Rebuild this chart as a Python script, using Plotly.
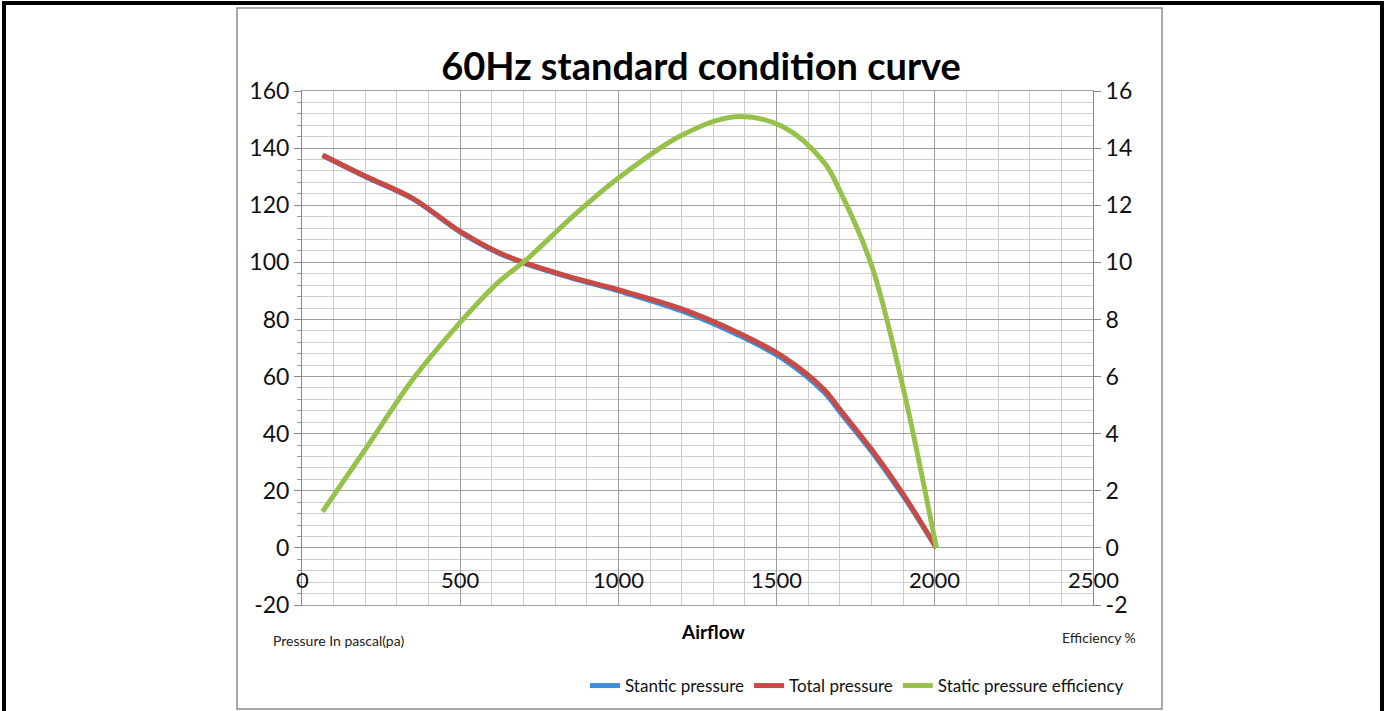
import plotly.graph_objects as go

# ---------------- data ----------------
airflow = [65, 200, 350, 500, 620, 710, 850, 1000, 1200, 1370, 1520, 1650, 1700, 1800, 1900, 2005]
static_pressure = [137.4, 130.0, 122.2, 110.6, 103.3, 99.4, 94.6, 90.0, 83.0, 75.0, 66.2, 54.5, 47.6, 33.8, 18.2, 0.0]
total_pressure = [137.6, 130.2, 122.4, 110.8, 103.5, 99.6, 94.8, 90.4, 83.7, 75.8, 67.0, 55.5, 48.5, 34.5, 18.8, 0.0]
static_efficiency = [1.27, 3.45, 5.9, 7.9, 9.3, 10.1, 11.55, 12.95, 14.45, 15.1, 14.75, 13.5, 12.5, 9.9, 5.6, 0.0]

x_tick_values = [0, 500, 1000, 1500, 2000, 2500]
x_tick_labels = ["0", "500", "1000", "1500", "2000", "2500"]
y_left_ticks = [-20, 0, 20, 40, 60, 80, 100, 120, 140, 160]
y_left_labels = ["-20", "0", "20", "40", "60", "80", "100", "120", "140", "160"]
y_right_ticks = [-2, 0, 2, 4, 6, 8, 10, 12, 14, 16]
y_right_labels = ["-2", "0", "2", "4", "6", "8", "10", "12", "14", "16"]

title_text = "60Hz standard condition curve"
series_names = ["Stantic pressure", "Total pressure", "Static pressure efficiency"]

# ---------------- layout helpers ----------------
W, H = 1386, 711
PL, PR, PT, PB = 302, 1093, 91, 605  # plot area in pixels


def px_x(p):
    return (p - PL) / (PR - PL)


def px_y(p):
    return (PB - p) / (PB - PT)


FONT = "Lato"
BLUE = "#3b8fd8"
RED = "#c94a44"
GREEN = "#96c14a"
MAJOR_GRID = "#9c9c9c"
MINOR_GRID = "#cdcdcd"
SM = 1.0

fig = go.Figure()
fig.add_trace(go.Scatter(x=airflow, y=static_pressure, name=series_names[0], mode="lines",
                         line=dict(color=BLUE, width=5, shape="spline", smoothing=SM), yaxis="y"))
fig.add_trace(go.Scatter(x=airflow, y=total_pressure, name=series_names[1], mode="lines",
                         line=dict(color=RED, width=5, shape="spline", smoothing=SM), yaxis="y"))
fig.add_trace(go.Scatter(x=airflow, y=static_efficiency, name=series_names[2], mode="lines",
                         line=dict(color=GREEN, width=5, shape="spline", smoothing=SM), yaxis="y2"))

annotations = []
for v, t in zip(x_tick_values, x_tick_labels):
    annotations.append(dict(x=v, y=-11, xref="x", yref="y", text=t, showarrow=False,
                            font=dict(family=FONT, size=22, color="#111111"),
                            xanchor="center", yanchor="middle"))
annotations += [
    dict(x=px_x(713), y=px_y(631), xref="paper", yref="paper", text="<b>Airflow</b>", showarrow=False,
         font=dict(family=FONT, size=19, color="#000000"), xanchor="center", yanchor="middle"),
    dict(x=px_x(338), y=px_y(640), xref="paper", yref="paper", text="Pressure In pascal(pa)", showarrow=False,
         font=dict(family=FONT, size=14, color="#222222"), xanchor="center", yanchor="middle"),
    dict(x=px_x(1099), y=px_y(637), xref="paper", yref="paper", text="Efficiency %", showarrow=False,
         font=dict(family=FONT, size=14, color="#222222"), xanchor="center", yanchor="middle"),
]

shapes = [
    dict(type="rect", xref="paper", yref="paper", x0=px_x(237), x1=px_x(1162), y0=px_y(709), y1=px_y(8),
         line=dict(color="#8c8c8c", width=1.5), layer="below"),
    dict(type="rect", xref="paper", yref="paper", x0=px_x(4), x1=px_x(1382), y0=px_y(730), y1=px_y(3),
         line=dict(color="#000000", width=4), layer="above"),
]

fig.update_layout(
    width=W, height=H,
    margin=dict(l=PL, r=W - PR, t=PT, b=H - PB, autoexpand=False),
    paper_bgcolor="white", plot_bgcolor="white",
    font=dict(family=FONT, size=22, color="#111111"),
    title=dict(text="<b>" + title_text + "</b>", x=701 / W, y=1 - 67 / H, xanchor="center", yanchor="middle",
               font=dict(family=FONT, size=38, color="#000000")),
    xaxis=dict(range=[0, 2500], dtick=500, tick0=0, showticklabels=False,
               showgrid=True, gridcolor=MAJOR_GRID, gridwidth=1,
               minor=dict(dtick=100, showgrid=True, gridcolor=MINOR_GRID, gridwidth=1),
               zeroline=False, showline=True, linecolor=MAJOR_GRID, mirror=True, fixedrange=True,
               automargin=False),
    yaxis=dict(range=[-20, 160], tickvals=y_left_ticks, ticktext=y_left_labels,
               showgrid=True, gridcolor=MAJOR_GRID, gridwidth=1,
               ticks="outside", ticklen=7, tickcolor="#888888",
               minor=dict(dtick=4, tick0=0, showgrid=True, gridcolor=MINOR_GRID, ticks="outside", ticklen=4,
                          tickcolor="#999999"),
               zeroline=True, zerolinecolor=MAJOR_GRID, zerolinewidth=1, automargin=False,
               showline=True, linecolor="#888888", tickfont=dict(family=FONT, size=23, color="#111111")),
    yaxis2=dict(range=[-2, 16], tickvals=y_right_ticks, ticktext=y_right_labels,
                overlaying="y", side="right", showgrid=False, automargin=False,
                ticks="outside", ticklen=7, tickcolor="#888888", zeroline=False,
                showline=True, linecolor="#888888", tickfont=dict(family=FONT, size=23, color="#111111")),
    legend=dict(orientation="h", x=px_x(857), y=px_y(686), xanchor="center", yanchor="middle",
                font=dict(family=FONT, size=17, color="#111111"), itemwidth=30, tracegroupgap=0,
                bgcolor="rgba(0,0,0,0)"),
    annotations=annotations,
    shapes=shapes,
    showlegend=True,
)

fig.write_html(
    "out.html",
    config={"displayModeBar": False},
    post_script=(
        "document.body.style.margin='0px';"
        "document.body.style.overflow='hidden';"
        "document.documentElement.style.overflow='hidden';"
    ),
)
